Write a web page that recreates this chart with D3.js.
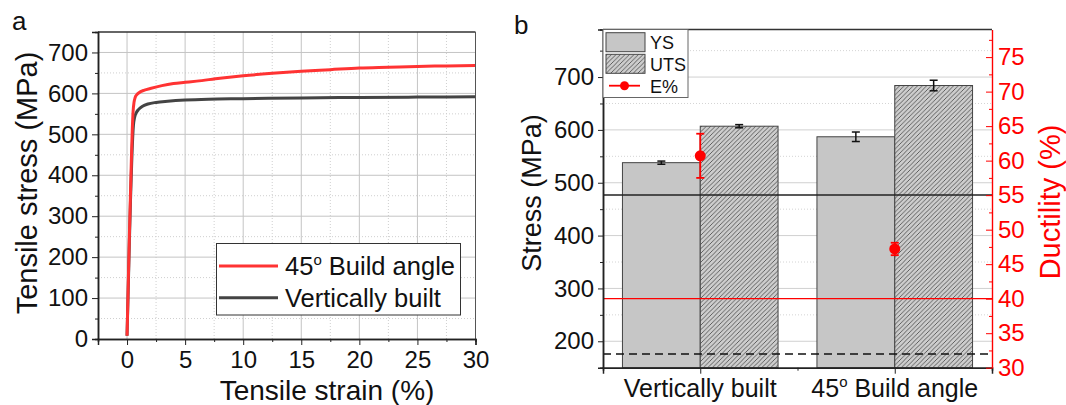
<!DOCTYPE html>
<html>
<head>
<meta charset="utf-8">
<script src="https://cdn.jsdelivr.net/npm/d3@7"></script>
<style>
  body { margin: 0; background: #fff; }
  svg { font-family: Arial, "Liberation Sans", sans-serif; }
</style>
</head>
<body>
<script>
// panel a: stress-strain curves
const angledStrain = [0, 0.1, 0.2, 0.3, 0.38, 0.45, 0.52, 0.6, 0.7, 0.85, 1.0, 1.5, 2, 3, 4, 5, 6, 8, 10, 12.5, 15, 17.5, 20, 22.5, 25, 27.5, 30];
const angledStress = [8, 130, 250, 360, 445, 510, 555, 578, 590, 597, 601, 608, 612, 619, 624, 627, 630, 637, 643, 649, 654, 658, 662, 664, 666, 667, 668];
const verticalStrain = [0, 0.1, 0.2, 0.3, 0.4, 0.5, 0.55, 0.65, 0.8, 1.0, 1.3, 1.8, 2.5, 3.5, 5, 7, 10, 15, 20, 25, 30];
const verticalStress = [8, 120, 235, 340, 430, 500, 522, 541, 553, 561, 568, 574, 578, 581, 584, 586, 587, 589, 590, 591, 592];
const strainTicks = [0, 5, 10, 15, 20, 25, 30];
const stressTicksA = [0, 100, 200, 300, 400, 500, 600, 700];

// panel b: bars
const categories = ["Vertically built", "45° Build angle"];
const ysMean = [538, 587];
const ysErr = [3, 9];
const utsMean = [607, 684];
const utsErr = [3, 10];
const elongMean = [60.7, 47.2];
const elongErr = [3.2, 0.9];
const stressTicksB = [200, 300, 400, 500, 600, 700];
const ductTicks = [30, 35, 40, 45, 50, 55, 60, 65, 70, 75];
const blackRefStress = [477];
const dashedRefStress = [176];
const redRefDuct = [40];

const RED = "#ff3333";
const svg = d3.select("body").append("svg").attr("width", 1066).attr("height", 405);

const defs = svg.append("defs");
const pat = defs.append("pattern")
  .attr("id", "hatch")
  .attr("patternUnits", "userSpaceOnUse")
  .attr("width", 4.5)
  .attr("height", 4.5);
pat.append("rect").attr("width", 4.5).attr("height", 4.5).attr("fill", "#cdcdcd");
pat.append("path")
  .attr("d", "M-1,1 l2,-2 M0,4.5 l4.5,-4.5 M3.5,5.5 l2,-2")
  .attr("stroke", "#444")
  .attr("stroke-width", 0.8);

// ---------- panel a ----------
const xA = d3.scaleLinear().domain([-2.5, 30]).range([98, 475.5]);
const yA = d3.scaleLinear().domain([0, 750]).range([339, 32]);

const gA = svg.append("g");

gA.selectAll(".vminor").data(d3.range(2.5, 30, 5)).join("line")
  .attr("x1", (d) => xA(d)).attr("x2", (d) => xA(d))
  .attr("y1", yA(0)).attr("y2", yA(750))
  .attr("stroke", "#cfcfcf").attr("stroke-dasharray", "1,2");
gA.selectAll(".hminor").data(d3.range(50, 750, 100)).join("line")
  .attr("x1", xA(-2.5)).attr("x2", xA(30))
  .attr("y1", (d) => yA(d)).attr("y2", (d) => yA(d))
  .attr("stroke", "#cfcfcf").attr("stroke-dasharray", "1,2");
gA.selectAll(".vmajor").data(strainTicks.slice(0, -1)).join("line")
  .attr("x1", (d) => xA(d)).attr("x2", (d) => xA(d))
  .attr("y1", yA(0)).attr("y2", yA(750))
  .attr("stroke", "#c4c4c4");
gA.selectAll(".hmajor").data(stressTicksA.slice(1)).join("line")
  .attr("x1", xA(-2.5)).attr("x2", xA(30))
  .attr("y1", (d) => yA(d)).attr("y2", (d) => yA(d))
  .attr("stroke", "#c4c4c4");

const lineA = d3.line().x((d) => xA(d[0])).y((d) => yA(d[1])).curve(d3.curveMonotoneX);
gA.append("path")
  .attr("d", lineA(d3.zip(verticalStrain, verticalStress)))
  .attr("fill", "none").attr("stroke", "#444").attr("stroke-width", 3);
gA.append("path")
  .attr("d", lineA(d3.zip(angledStrain, angledStress)))
  .attr("fill", "none").attr("stroke", RED).attr("stroke-width", 3);

// frame
gA.append("line").attr("x1", xA(-2.5)).attr("x2", xA(30)).attr("y1", yA(750)).attr("y2", yA(750))
  .attr("stroke", "#333").attr("stroke-width", 1.5);
gA.append("line").attr("x1", xA(30)).attr("x2", xA(30)).attr("y1", yA(0)).attr("y2", yA(750))
  .attr("stroke", "#555").attr("stroke-width", 1);

gA.append("g").attr("transform", `translate(${xA(-2.5)},0)`)
  .call(d3.axisLeft(yA).tickValues(stressTicksA).tickSize(6).tickPadding(4));
gA.append("g").attr("transform", `translate(${xA(-2.5)},0)`)
  .call(d3.axisLeft(yA).tickValues(d3.range(50, 750, 100)).tickSize(3).tickFormat(""));
gA.append("g").attr("transform", `translate(0,${yA(0)})`)
  .call(d3.axisBottom(xA).tickValues(strainTicks).tickSize(6).tickPadding(6));
gA.append("g").attr("transform", `translate(0,${yA(0)})`)
  .call(d3.axisBottom(xA).tickValues(d3.range(2.5, 30, 5)).tickSize(3).tickFormat(""));

gA.selectAll(".domain").attr("stroke", "#222").attr("stroke-width", 1.5);
gA.selectAll(".tick line").attr("stroke", "#222");
gA.selectAll(".tick text").attr("font-size", 24).attr("font-family", "Arial, 'Liberation Sans', sans-serif").attr("fill", "#111");

gA.append("text")
  .attr("transform", "translate(37,183) rotate(-90)")
  .attr("text-anchor", "middle").attr("font-size", 29).attr("fill", "#111")
  .text("Tensile stress (MPa)");
gA.append("text")
  .attr("x", 327).attr("y", 400)
  .attr("text-anchor", "middle").attr("font-size", 28).attr("fill", "#111")
  .text("Tensile strain (%)");
svg.append("text").attr("x", 12).attr("y", 30).attr("font-size", 26).attr("fill", "#111").text("a");

// legend a
const legA = gA.append("g");
legA.append("rect").attr("x", 216.5).attr("y", 243.5).attr("width", 244).attr("height", 71.5)
  .attr("fill", "#fff").attr("stroke", "#333");
const legItemsA = [
  { color: RED, y: 266, label: "45", sup: "o", rest: " Build angle" },
  { color: "#444", y: 297.7, label: "Vertically built" },
];
legItemsA.forEach((it) => {
  legA.append("line").attr("x1", 219).attr("x2", 278).attr("y1", it.y).attr("y2", it.y)
    .attr("stroke", it.color).attr("stroke-width", 3);
  const t = legA.append("text").attr("x", 285).attr("y", it.y + 9).attr("font-size", 25.5).attr("fill", "#111");
  t.append("tspan").text(it.label);
  if (it.sup) {
    t.append("tspan").attr("font-size", 15).attr("dy", -10).text(it.sup);
    t.append("tspan").attr("dy", 10).text(it.rest);
  }
});

// ---------- panel b ----------
const xB = d3.scaleLinear().domain([0.5, 2.5]).range([603, 992]);
const yB = d3.scaleLinear().domain([150, 790]).range([367.7, 29.5]);
const yD = d3.scaleLinear().domain([30, 79]).range([367.7, 29.5]);
const barW = 0.4;

const gB = svg.append("g");

gB.selectAll(".bminor").data(d3.range(250, 790, 100)).join("line")
  .attr("x1", xB(0.5)).attr("x2", xB(2.5))
  .attr("y1", (d) => yB(d)).attr("y2", (d) => yB(d))
  .attr("stroke", "#d4d4d4").attr("stroke-dasharray", "1,2");
gB.selectAll(".bmajor").data(stressTicksB).join("line")
  .attr("x1", xB(0.5)).attr("x2", xB(2.5))
  .attr("y1", (d) => yB(d)).attr("y2", (d) => yB(d))
  .attr("stroke", "#d0d0d0");

const pos = categories.map((c, i) => i + 1);

gB.selectAll(".ys").data(ysMean).join("rect")
  .attr("x", (d, i) => xB(pos[i] - barW))
  .attr("width", xB(barW) - xB(0))
  .attr("y", (d) => yB(d))
  .attr("height", (d) => yB(150) - yB(d))
  .attr("fill", "#c6c6c6").attr("stroke", "#444").attr("stroke-width", 1);
gB.selectAll(".uts").data(utsMean).join("rect")
  .attr("x", (d, i) => xB(pos[i]))
  .attr("width", xB(barW) - xB(0))
  .attr("y", (d) => yB(d))
  .attr("height", (d) => yB(150) - yB(d))
  .attr("fill", "url(#hatch)").attr("stroke", "#444").attr("stroke-width", 1);

function errBar(g, cx, y0, y1, color, cap, w) {
  g.append("line").attr("x1", cx).attr("x2", cx).attr("y1", y0).attr("y2", y1)
    .attr("stroke", color).attr("stroke-width", w);
  [y0, y1].forEach((y) => {
    g.append("line").attr("x1", cx - cap).attr("x2", cx + cap).attr("y1", y).attr("y2", y)
      .attr("stroke", color).attr("stroke-width", w);
  });
}
ysMean.forEach((m, i) => errBar(gB, xB(pos[i] - barW / 2), yB(m - ysErr[i]), yB(m + ysErr[i]), "#111", 4, 1.5));
utsMean.forEach((m, i) => errBar(gB, xB(pos[i] + barW / 2), yB(m - utsErr[i]), yB(m + utsErr[i]), "#111", 4, 1.5));

// reference lines
gB.selectAll(".refk").data(blackRefStress).join("line")
  .attr("x1", xB(0.5)).attr("x2", xB(2.5))
  .attr("y1", (d) => yB(d)).attr("y2", (d) => yB(d))
  .attr("stroke", "#222").attr("stroke-width", 1.5);
gB.selectAll(".refr").data(redRefDuct).join("line")
  .attr("x1", xB(0.5)).attr("x2", xB(2.5))
  .attr("y1", (d) => yD(d)).attr("y2", (d) => yD(d))
  .attr("stroke", "#ff0000").attr("stroke-width", 1.2);
gB.selectAll(".refd").data(dashedRefStress).join("line")
  .attr("x1", xB(0.5)).attr("x2", xB(2.5))
  .attr("y1", (d) => yB(d)).attr("y2", (d) => yB(d))
  .attr("stroke", "#111").attr("stroke-width", 1.5).attr("stroke-dasharray", "8,5");

// elongation points
elongMean.forEach((m, i) => errBar(gB, xB(pos[i]), yD(m - elongErr[i]), yD(m + elongErr[i]), "#ff0000", 4, 1.8));
gB.selectAll(".el").data(elongMean).join("circle")
  .attr("cx", (d, i) => xB(pos[i])).attr("cy", (d) => yD(d)).attr("r", 5.5)
  .attr("fill", "#ff0000");

// frame top
gB.append("line").attr("x1", xB(0.5)).attr("x2", xB(2.5)).attr("y1", yB(790)).attr("y2", yB(790))
  .attr("stroke", "#333").attr("stroke-width", 1.5);

const axL = gB.append("g").attr("class", "blk").attr("transform", `translate(${xB(0.5)},0)`)
  .call(d3.axisLeft(yB).tickValues(stressTicksB).tickSize(5).tickPadding(4));
gB.append("g").attr("class", "blk").attr("transform", `translate(${xB(0.5)},0)`)
  .call(d3.axisLeft(yB).tickValues(d3.range(250, 790, 100)).tickSize(3).tickFormat(""));
gB.append("g").attr("class", "blk").attr("transform", `translate(0,${yB(150)})`)
  .call(d3.axisBottom(xB).tickValues(pos).tickSize(6).tickPadding(5).tickFormat(() => ""));
gB.append("g").attr("class", "blk").attr("transform", `translate(0,${yB(150)})`)
  .call(d3.axisBottom(xB).tickValues([0.5, 1.5, 2.5]).tickSize(3).tickFormat(""));
gB.selectAll(".blk .domain").attr("stroke", "#222").attr("stroke-width", 1.5);
gB.selectAll(".blk .tick line").attr("stroke", "#222");

const axR = gB.append("g").attr("class", "red").attr("transform", `translate(${xB(2.5)},0)`)
  .call(d3.axisRight(yD).tickValues(ductTicks).tickSizeInner(-6).tickSizeOuter(0).tickPadding(6));
gB.append("g").attr("class", "red").attr("transform", `translate(${xB(2.5)},0)`)
  .call(d3.axisRight(yD).tickValues(d3.range(32.5, 79, 5)).tickSizeInner(-3).tickSizeOuter(0).tickFormat(""));
gB.selectAll(".red .domain").attr("stroke", "#ff0000").attr("stroke-width", 1.2);
gB.selectAll(".red .tick line").attr("stroke", "#ff0000");
axR.selectAll(".tick text").attr("fill", "#ff0000");
gB.selectAll(".tick text").attr("font-size", 24).attr("font-family", "Arial, 'Liberation Sans', sans-serif");
axL.selectAll(".tick text").attr("fill", "#111");

// category labels
categories.forEach((c, i) => {
  const t = gB.append("text").attr("x", xB(pos[i])).attr("y", 397)
    .attr("text-anchor", "middle").attr("font-size", 25).attr("fill", "#111");
  const parts = c.split("°");
  if (parts.length > 1) {
    t.append("tspan").text(parts[0]);
    t.append("tspan").attr("font-size", 15).attr("dy", -10).text("o");
    t.append("tspan").attr("dy", 10).text(parts[1]);
  } else {
    t.text(c);
  }
});

gB.append("text")
  .attr("transform", "translate(541,193) rotate(-90)")
  .attr("text-anchor", "middle").attr("font-size", 27).attr("fill", "#111")
  .text("Stress (MPa)");
gB.append("text")
  .attr("transform", "translate(1060,202) rotate(-90)")
  .attr("text-anchor", "middle").attr("font-size", 29).attr("fill", "#ff0000")
  .text("Ductility (%)");
svg.append("text").attr("x", 514).attr("y", 34).attr("font-size", 26).attr("fill", "#111").text("b");

// legend b
const legB = gB.append("g");
legB.append("rect").attr("x", 603).attr("y", 29.5).attr("width", 85).attr("height", 68)
  .attr("fill", "#fff").attr("stroke", "#666");
legB.append("rect").attr("x", 606).attr("y", 32.7).attr("width", 39).attr("height", 19)
  .attr("fill", "#c6c6c6").attr("stroke", "#444");
legB.append("rect").attr("x", 606).attr("y", 54.3).attr("width", 39).attr("height", 19)
  .attr("fill", "url(#hatch)").attr("stroke", "#444");
legB.append("line").attr("x1", 609).attr("x2", 640).attr("y1", 85.7).attr("y2", 85.7)
  .attr("stroke", "#ff0000").attr("stroke-width", 1.8);
legB.append("circle").attr("cx", 624.5).attr("cy", 85.7).attr("r", 4.5).attr("fill", "#ff0000");
[["YS", 48.5], ["UTS", 70.5], ["E%", 92.5]].forEach(([t, y]) => {
  legB.append("text").attr("x", 650).attr("y", y).attr("font-size", 18).attr("fill", "#111").text(t);
});
</script>
</body>
</html>
